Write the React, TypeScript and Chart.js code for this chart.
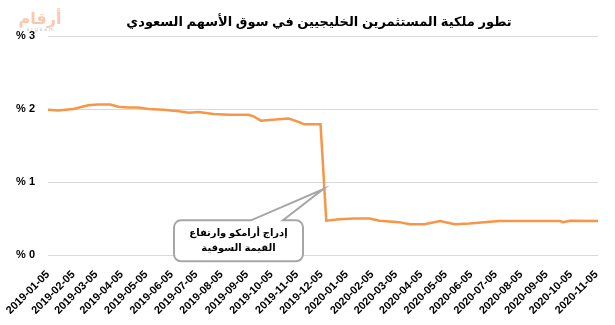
import React, { useEffect, useRef } from "react";
import { Chart, registerables } from "chart.js";

Chart.register(...registerables);

const TITLE = "تطور ملكية المستثمرين الخليجيين في سوق الأسهم السعودي";
const CALLOUT_LINES = ["إدراج أرامكو وارتفاع", "القيمة السوقية"];

const START = "2019-01-05";

const tickDates = [
  "2019-01-05", "2019-02-05", "2019-03-05", "2019-04-05", "2019-05-05", "2019-06-05",
  "2019-07-05", "2019-08-05", "2019-09-05", "2019-10-05", "2019-11-05", "2019-12-05",
  "2020-01-05", "2020-02-05", "2020-03-05", "2020-04-05", "2020-05-05", "2020-06-05",
  "2020-07-05", "2020-08-05", "2020-09-05", "2020-10-05", "2020-11-05",
];

const yTicks = [0, 1, 2, 3];

const dates = [
  "2019-01-05", "2019-01-17", "2019-02-05", "2019-02-23", "2019-03-07", "2019-03-22",
  "2019-04-01", "2019-04-13", "2019-04-25", "2019-05-08", "2019-05-26", "2019-06-14",
  "2019-06-26", "2019-07-08", "2019-07-26", "2019-08-14", "2019-09-07", "2019-09-13",
  "2019-09-22", "2019-10-14", "2019-10-26", "2019-11-08", "2019-11-14", "2019-12-04",
  "2019-12-11", "2019-12-27", "2020-01-14", "2020-02-02", "2020-02-14", "2020-03-09",
  "2020-03-22", "2020-04-09", "2020-04-28", "2020-05-16", "2020-06-03", "2020-06-28",
  "2020-07-10", "2020-08-16", "2020-09-22", "2020-09-25", "2020-10-04", "2020-11-07",
];

const values = [
  1.99, 1.98, 2.0, 2.05, 2.06, 2.06,
  2.03, 2.02, 2.02, 2.0, 1.99, 1.97,
  1.95, 1.96, 1.93, 1.92, 1.92, 1.9,
  1.84, 1.86, 1.87, 1.82, 1.79, 1.79,
  0.47, 0.49, 0.5, 0.5, 0.47, 0.45,
  0.42, 0.42, 0.465, 0.42, 0.43, 0.455,
  0.465, 0.465, 0.465, 0.45, 0.47, 0.465,
];

// callout anchor in data coordinates
const calloutTipDate = "2019-12-07";
const calloutTipValue = 0.9;

const DAY = 86400000;
const dayOf = (d: string) => Math.round((Date.parse(d + "T00:00:00Z") - Date.parse(START + "T00:00:00Z")) / DAY);

const FONT = "Arial, 'Liberation Sans', 'DejaVu Sans', sans-serif";

export default function App() {
  const ref = useRef<HTMLCanvasElement | null>(null);

  useEffect(() => {
    document.body.style.margin = "0";
    const canvas = ref.current;
    if (!canvas) return;

    const points = dates.map((d, i) => ({ x: dayOf(d), y: values[i] }));
    const tickVals = tickDates.map(dayOf);

    const decor = {
      id: "decor",
      afterDraw(chart: any) {
        const ctx = chart.ctx as CanvasRenderingContext2D;
        const xs = chart.scales.x;
        const ys = chart.scales.y;
        ctx.save();
        // logo
        ctx.fillStyle = "rgba(246,170,130,0.65)";
        ctx.font = `bold 16px 'DejaVu Sans', sans-serif`;
        ctx.textAlign = "center";
        ctx.textBaseline = "alphabetic";
        ctx.fillText("أرقام", 40, 24);
        ctx.font = `5px 'DejaVu Sans', sans-serif`;
        ctx.fillStyle = "rgba(190,190,190,0.9)";
        ctx.fillText("a r g a a m", 40, 31);

        // title
        ctx.fillStyle = "#000";
        ctx.font = `bold 13px ${FONT}`;
        ctx.textAlign = "center";
        ctx.textBaseline = "middle";
        ctx.fillText(TITLE, 319, 22);

        // callout
        const tx = xs.getPixelForValue(dayOf(calloutTipDate));
        const ty = ys.getPixelForValue(calloutTipValue);
        const bx = tx - 149, by = ty + 31, bw = 129, bh = 41, r = 7;
        const p1 = tx - 72, p2 = tx - 40;
        ctx.beginPath();
        ctx.moveTo(bx + r, by);
        ctx.lineTo(p1, by);
        ctx.lineTo(tx, ty);
        ctx.lineTo(p2, by);
        ctx.lineTo(bx + bw - r, by);
        ctx.arcTo(bx + bw, by, bx + bw, by + r, r);
        ctx.lineTo(bx + bw, by + bh - r);
        ctx.arcTo(bx + bw, by + bh, bx + bw - r, by + bh, r);
        ctx.lineTo(bx + r, by + bh);
        ctx.arcTo(bx, by + bh, bx, by + bh - r, r);
        ctx.lineTo(bx, by + r);
        ctx.arcTo(bx, by, bx + r, by, r);
        ctx.closePath();
        ctx.fillStyle = "#fff";
        ctx.fill();
        ctx.strokeStyle = "#a6a6a6";
        ctx.lineWidth = 2;
        ctx.stroke();
        ctx.fillStyle = "#000";
        ctx.font = `bold 10px ${FONT}`;
        ctx.textAlign = "center";
        ctx.textBaseline = "middle";
        ctx.fillText(CALLOUT_LINES[0], bx + bw / 2, by + 13);
        ctx.fillText(CALLOUT_LINES[1], bx + bw / 2, by + 28);
        ctx.restore();
      },
    };

    const chart = new Chart(canvas, {
      type: "line",
      data: {
        datasets: [
          {
            data: points,
            borderColor: "#F79646",
            borderWidth: 2.5,
            pointRadius: 0,
            tension: 0,
            fill: false,
          },
        ],
      },
      options: {
        animation: false,
        responsive: false,
        maintainAspectRatio: false,
        layout: { padding: { top: 36, right: 17, left: 0, bottom: 0 } },
        plugins: {
          legend: { display: false },
          title: { display: false },
          tooltip: { enabled: false },
        },
        scales: {
          x: {
            type: "linear",
            min: 0,
            max: dayOf("2020-11-07"),
            grid: { display: false },
            border: { display: false },
            afterBuildTicks: (scale: any) => {
              scale.ticks = tickVals.map((v) => ({ value: v }));
            },
            afterFit: (scale: any) => {
              scale.height = 70;
            },
            ticks: {
              autoSkip: false,
              maxRotation: 45,
              minRotation: 45,
              color: "#000",
              padding: 5,
              font: { family: FONT, size: 11, weight: "bold" },
              callback: (v: any) => {
                const i = tickVals.indexOf(Number(v));
                return i >= 0 ? tickDates[i] : "";
              },
            },
          },
          y: {
            min: 0,
            max: 3,
            afterBuildTicks: (scale: any) => {
              scale.ticks = yTicks.map((v) => ({ value: v }));
            },
            afterFit: (scale: any) => {
              scale.width = 48;
            },
            grid: { color: "#d9d9d9", lineWidth: 1, drawTicks: false },
            border: { display: false },
            ticks: {
              color: "#000",
              padding: 13,
              font: { family: FONT, size: 11, weight: "bold" },
              callback: (v: any) => `% ${v}`,
            },
          },
        },
      },
      plugins: [decor],
    });

    return () => chart.destroy();
  }, []);

  return <canvas ref={ref} width={615} height={325} style={{ display: "block" }} />;
}
